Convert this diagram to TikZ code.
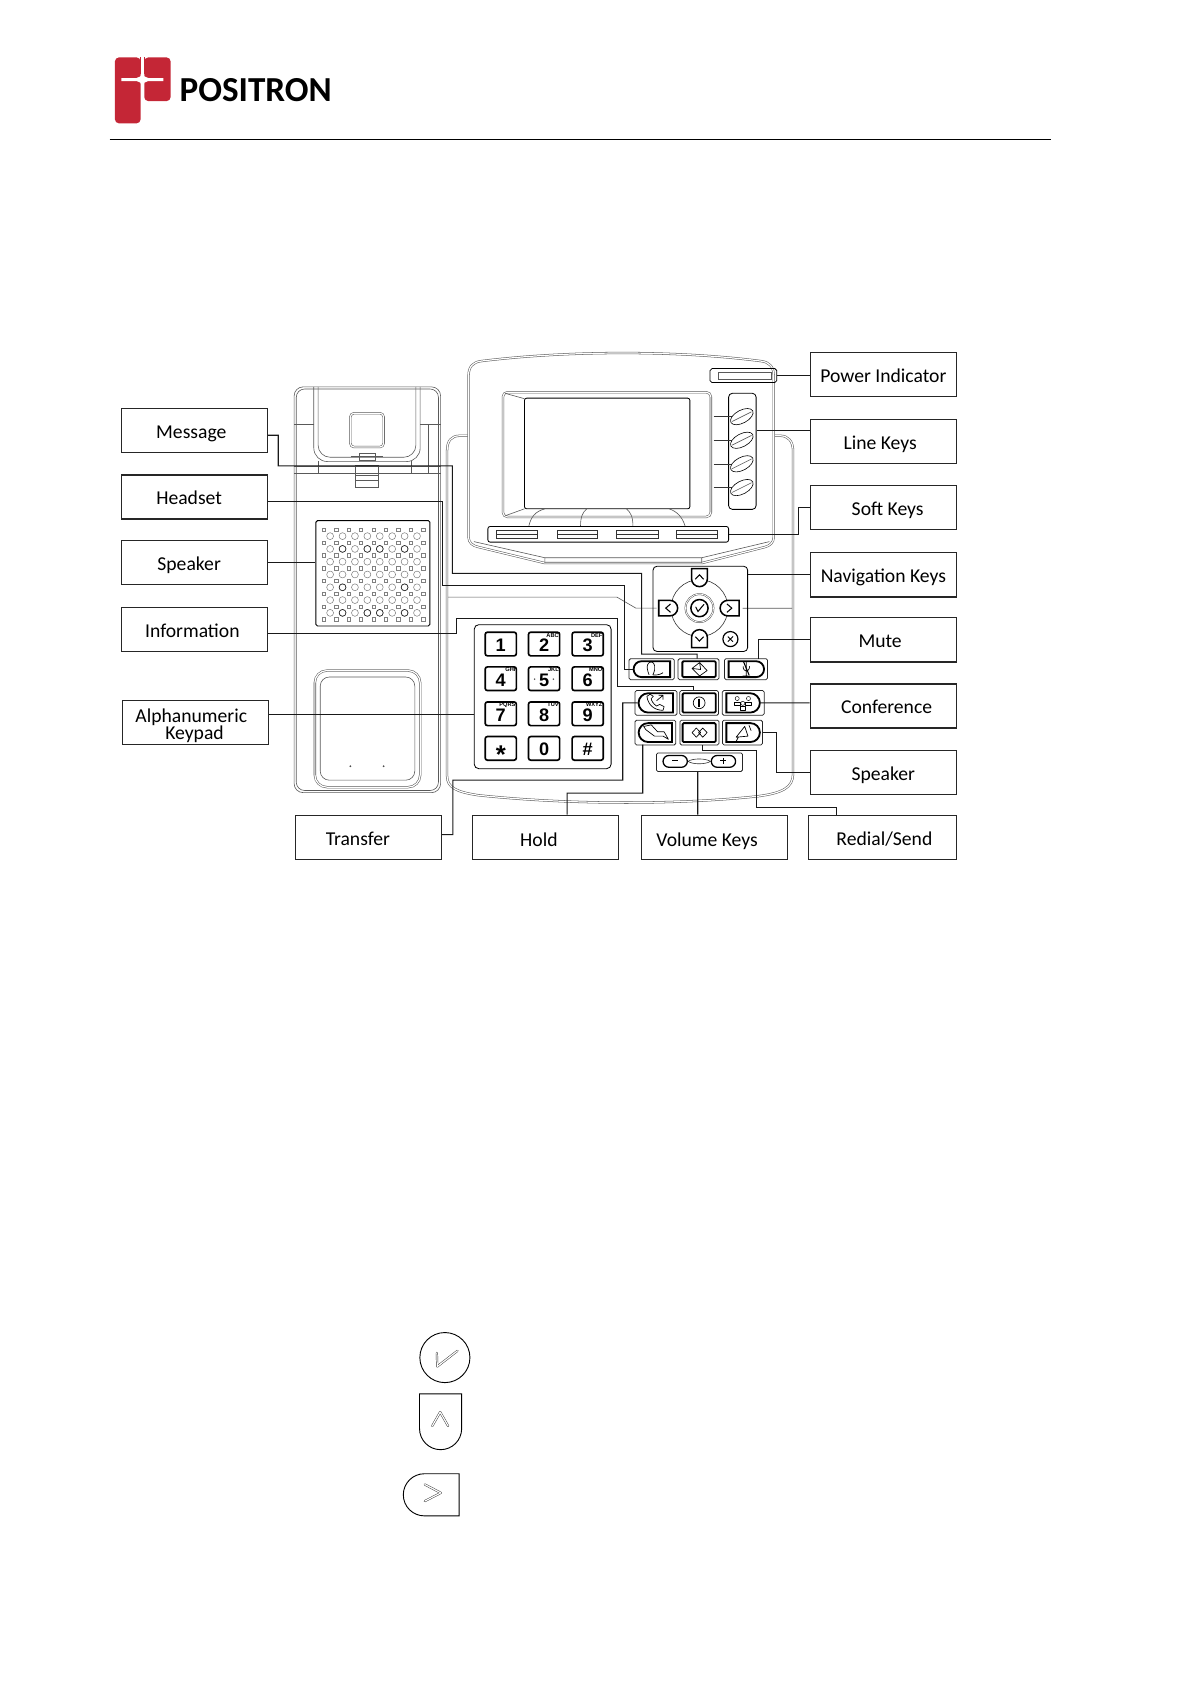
\documentclass[tikz,border=0pt]{standalone}
\usepackage{fontspec}
\setmainfont{Carlito}
\newfontfamily\keyfont{Liberation Sans}
\usetikzlibrary{shapes.misc,shapes.geometric}
\newcommand{\nudge}[1]{\kern#1mm\relax}
\definecolor{logored}{RGB}{196,38,54}
\begin{document}
\begin{tikzpicture}[x=0.05cm,y=-0.05cm]

	\tikzstyle{labelbox} = [rectangle,draw=black!85,line width=1.5pt,minimum width=68mm,minimum height=20.5mm,inner sep=0pt,font=\fontsize{26}{27}\selectfont,text height=21pt,text depth=0pt]
	\tikzstyle{lowbox} = [labelbox,text height=24pt,text depth=0pt]
	\tikzstyle{wire} = [line width=1.4pt,black!90]
	\tikzstyle{outline} = [draw=black!65,line width=0.8pt]
	\tikzstyle{hole} = [draw=black!50,line width=0.7pt]
	\tikzstyle{twin} = [draw=black!65,line width=0.7pt,double=white,double distance=1.6pt]
	\tikzstyle{frame} = [rectangle,rounded corners=2pt,draw=black!85,line width=1pt,minimum height=11.5mm,inner sep=0pt]
	\tikzstyle{softkey} = [rounded rectangle,draw=black,line width=2.4pt,minimum height=8.5mm,inner sep=0pt]
	\tikzstyle{padkey} = [rectangle,rounded corners=3pt,draw=black,line width=2.2pt,minimum width=14.5mm,minimum height=11mm,inner sep=0pt,font=\keyfont\bfseries\fontsize{24}{24}\selectfont,text height=20pt,text depth=0pt]
	\tikzstyle{padtag} = [inner sep=0pt,font=\keyfont\bfseries\fontsize{7.5}{7.5}\selectfont]
	\tikzstyle{navkey} = [rounded rectangle,rounded rectangle west arc=none,draw=black,line width=2pt,minimum width=8.4mm,minimum height=7.4mm,inner sep=0pt,fill=white]
	\tikzstyle{bigkey} = [rounded rectangle,rounded rectangle west arc=none,draw=black,line width=1.2pt,minimum width=26mm,minimum height=19.6mm,inner sep=0pt]
	\tikzstyle{glyph} = [draw=black!80,line width=0.6pt,double=white,double distance=1.6pt,line cap=round,line join=round]
	\tikzstyle{icon} = [draw=black,line width=0.9pt,line join=round]

	\useasboundingbox (0,0) rectangle (1108,1568);

	\fill[logored,rounded corners=5pt] (107,53.5) -- (130.8,53.5) -- (130.8,114.7) -- (107,114.7) -- cycle;
	\fill[logored,rounded corners=5pt] (134.3,53.5) -- (158.7,53.5) -- (158.7,94) -- (134.3,94) -- cycle;
	\fill[logored] (130,53.5) rectangle (135,69);
	\fill[white] (113,72.6) -- (127,72.6) .. controls (130,72.6) and (131.5,71) .. (132.5,66) .. controls (133.5,71) and (135,72.6) .. (138,72.6) -- (152,72.6) -- (152,75.4) -- (138,75.4) .. controls (135,75.4) and (133.5,77) .. (132.5,82) .. controls (131.5,77) and (130,75.4) .. (127,75.4) -- (113,75.4) -- cycle;
	\fill[white] (131.4,53.5) rectangle (133.7,70);
	\node[inner sep=0pt,anchor=base west,font=\bfseries\fontsize{46.5}{46}\selectfont] (brand) at (167,94) {POSITRON};
	\coordinate (ruleleft) at (102,129.5);
	\coordinate (ruleright) at (978,129.5);
	\draw[line width=1pt] (ruleleft) -- (ruleright);

	\draw[outline,rounded corners=12pt] (273.7,360) rectangle (410,737.6);
	\draw[outline,rounded corners=11pt] (275.7,362) rectangle (408,735.6);
	\draw[outline,rounded corners=18pt] (292,360) -- (292,429.5) -- (391,429.5) -- (391,360);
	\draw[outline,rounded corners=16pt] (296,360) -- (296,425.5) -- (387,425.5) -- (387,360);
	\draw[twin,rounded corners=5pt] (326,384.5) rectangle (357,416);
	\draw[outline] (273.7,395) -- (292,395) (391,395) -- (410,395) (398.5,395) -- (398.5,440);
	\draw[outline] (273.7,433.6) -- (410,433.6) (273.7,440) -- (410,440) (296,429) -- (296,440) (383,429) -- (383,440);
	\draw[outline] (331,433) rectangle (352,453) (331,442) -- (352,442) (331,447) -- (352,447);
	\draw[outline] (327,425) -- (356,425) (334,422) rectangle (349,428);
	\node[rectangle,rounded corners=2pt,draw=black,line width=1.2pt,minimum width=53mm,minimum height=49mm,inner sep=0pt] (grille) at (347,533.5) {};
	\foreach \r in {0,...,7}
		\foreach \c in {0,...,8}
			\draw[hole] ({299.9+\c*11.55},{491.5+\r*11.9}) rectangle ++(3,3);
	\foreach \r in {0,...,6}
		\foreach \c in {0,...,7}
			\draw[hole] ({307.2+\c*11.55},{498.9+\r*11.9}) circle[radius=3.2];
	\foreach \r/\c in {1/1,1/3,1/4,1/6,4/1,4/6,6/1,6/3,6/4,6/6}
		\draw[draw=black!85,line width=0.8pt] ({307.2+\c*11.55},{498.9+\r*11.9}) circle[radius=3.2];
	\draw[twin,rounded corners=16pt] (293,732.5) -- (293,624) -- (391,624) -- (391,732.5) -- cycle;
	\draw[outline,rounded corners=12pt] (298,726) -- (298,630) -- (386,630) -- (386,726) -- cycle;
	\fill[black!70] (326,713) circle[radius=0.9] (357,713) circle[radius=0.9];

	\draw[twin] (436,405.5) -- (428,405.5) .. controls (420,405.5) and (416,410) .. (416,420) -- (416,722) .. controls (416,733) and (425,737) .. (445,740) .. controls (530,749) and (630,749) .. (705,741) .. controls (728,738) and (738,733) .. (738,720) -- (738,420) .. controls (738,410) and (733,405.5) .. (726,405.5) -- (721,405.5);
	\draw[outline] (417,555.6) -- (574,555.6) -- (591.7,565.9) -- (611,565.9) (691,566) -- (737,566);

	\draw[twin,fill=white] (436,500) -- (436,350) .. controls (436,341) and (440,337) .. (448,336) .. controls (530,326) and (630,326) .. (708,336) .. controls (716,337) and (720,341) .. (720,350) -- (720,500) .. controls (720,505) and (716,508) .. (712,509) -- (653,524) -- (507,524) -- (445,509) .. controls (440,508) and (436,505) .. (436,500) -- cycle;
	\draw[outline] (507,519) -- (507,524) (653,519) -- (653,524) (441,504) -- (507,519) -- (653,519) -- (716,504);
	\draw[twin,rounded corners=6pt] (468,365) rectangle (661.5,481);
	\node[rectangle,rounded corners=3pt,draw=black,line width=1.1pt,minimum width=77mm,minimum height=51.5mm,inner sep=0pt] (screen) at (565,422) {};
	\draw[outline] (470,366) -- (488,371) (470,480) -- (488,473.5);
	\draw[outline] (492,490) .. controls (494,481) and (498,476) .. (507,473.5) (540.2,490) .. controls (540.2,481) and (542,477) .. (546,473.5) (589,490) .. controls (589,481) and (587,477) .. (583,473.5) (637.7,490) .. controls (635,481) and (630,476) .. (622.7,473.5);

	\node[rectangle,rounded corners=2.5pt,draw=black,line width=1pt,minimum width=31mm,minimum height=6.5mm,inner sep=0pt] (powerled) at (691.8,349.5) {};
	\draw[outline] (668.4,346) rectangle (718,353);
	\node[rectangle,rounded corners=5pt,draw=black,line width=1.1pt,minimum width=12.8mm,minimum height=54mm,inner sep=0pt] (linepanel) at (690.8,420) {};
	\foreach \n/\y in {1/387.7,2/409.7,3/431.6,4/453.7} {
		\draw[outline,black!80] (664.1,\y) -- (681,\y);
		\node[ellipse,draw=black,line width=0.8pt,fill=white,minimum width=11.5mm,minimum height=6mm,inner sep=0pt,rotate=28] (linekey\n) at (690.3,\y) {};
		\draw[outline] ([shift={(-9,4.5)}]linekey\n.center) -- ([shift={(9,-4.5)}]linekey\n.center);
	}
	\node[rectangle,rounded corners=3pt,draw=black,line width=1.1pt,minimum width=112mm,minimum height=7.3mm,inner sep=0pt] (softpanel) at (566,497.2) {};
	\foreach \x/\w in {462/38.3,518.4/37.4,573.4/39.2,629/38.1}
		\draw[draw=black!80,line width=0.8pt] (\x,493.7) rectangle ++(\w,7.1) (\x,497.2) -- ++(\w,0);

	\node[rectangle,rounded corners=5pt,draw=black,line width=1.1pt,minimum width=44mm,minimum height=39.6mm,inner sep=0pt] (navpanel) at (651.7,566.6) {};
	\draw[outline,black!80] (650.9,565.9) circle[radius=26.5];
	\draw[twin,double distance=1pt] (650.9,565.9) circle[radius=13];
	\node[circle,draw=black,line width=2pt,minimum size=8mm,inner sep=0pt] (navok) at (650.9,565.9) {};
	\draw[line width=1.4pt,line cap=round] (647.5,565) -- (649.5,569) -- (655,562.5);
	\node[navkey,rotate=-90] (navup) at (650.9,537.5) {};
	\node[navkey,rotate=90] (navdown) at (650.9,594.3) {};
	\node[navkey,minimum width=8.8mm,minimum height=7.2mm] (navleft) at (621.8,565.9) {};
	\node[navkey,minimum width=8.8mm,minimum height=7.2mm,rotate=180] (navright) at (678.9,565.9) {};
	\draw[line width=1.4pt] (647,539) -- (650.9,535) -- (654.8,539) (647,592.5) -- (650.9,596.5) -- (654.8,592.5) (624,562) -- (619.5,565.9) -- (624,569.8) (676.5,562) -- (681,565.9) -- (676.5,569.8);
	\node[circle,draw=black,line width=1.6pt,minimum size=7mm,inner sep=0pt] (navclose) at (679.7,594.7) {};
	\draw[line width=1.2pt] (677.3,592.3) -- (682.1,597.1) (677.3,597.1) -- (682.1,592.3);

	\node[rectangle,rounded corners=6pt,draw=black,line width=1.1pt,minimum width=63.7mm,minimum height=67mm,inner sep=0pt] (keypad) at (505,648.3) {};
	\foreach \n/\t/\l/\x/\y in {1/1//466/599.3,2/2/ABC/506.3/599.3,3/3/DEF/546.9/599.3,4/4/GHI/466/631.6,5/5/JKL/506.3/631.6,6/6/MNO/546.9/631.6,7/7/PQRS/466/664.2,8/8/TUV/506.3/664.2,9/9/WXYZ/546.9/664.2,10/\raisebox{-3.5mm}{\fontsize{34}{34}\selectfont *}//466/696.4,11/0//506.3/696.4,12/\#//546.9/696.4} {
		\node[padkey] (pad\n) at (\x,\y) {\t};
		\node[padtag,anchor=north east] (tag\n) at ([shift={(-1.5,1.5)}]pad\n.north east) {\l};
	}
	\fill[black!70] (497.5,632) circle[radius=0.8] (515,632) circle[radius=0.8];

	\node[frame,minimum width=21mm,minimum height=9.8mm] (fheadset) at (606.4,622.7) {};
	\node[softkey,rounded rectangle east arc=none,minimum width=17mm,minimum height=7.4mm] (headsetkey) at (606.6,622.7) {};
	\node[frame,minimum width=19mm,minimum height=9.8mm] (fmessage) at (650,622.7) {};
	\node[softkey,rectangle,rounded corners=1.5pt,minimum width=15.5mm,minimum height=7.4mm] (messagekey) at (650.5,622.7) {};
	\node[frame,minimum width=20mm,minimum height=9.8mm] (fmute) at (694.2,622.7) {};
	\node[softkey,rounded rectangle west arc=none,minimum width=16.5mm,minimum height=7.4mm] (mutekey) at (694.5,622.7) {};
	\node[frame,minimum width=19.5mm] (ftransfer) at (610.5,654.1) {};
	\node[softkey,rounded rectangle east arc=none,minimum width=16mm,minimum height=9mm] (transferkey) at (610.2,654.1) {};
	\node[frame,minimum width=18mm] (finfo) at (650.6,654.1) {};
	\node[softkey,rectangle,rounded corners=1.5pt,minimum width=15.4mm,minimum height=9mm] (infokey) at (650.6,654.1) {};
	\node[frame,minimum width=19.5mm] (fconf) at (691.6,654.1) {};
	\node[softkey,rounded rectangle west arc=none,minimum width=15.6mm,minimum height=9mm] (confkey) at (691.5,654.1) {};
	\node[frame,minimum width=19mm] (fhold) at (609.9,681.7) {};
	\node[softkey,rounded rectangle east arc=none,minimum width=15.5mm,minimum height=8.8mm] (holdkey) at (609.8,681.7) {};
	\node[frame,minimum width=18.2mm] (fredial) at (650.9,681.7) {};
	\node[softkey,rectangle,rounded corners=1.5pt,minimum width=15.4mm,minimum height=8.8mm] (redialkey) at (650.6,681.7) {};
	\node[frame,minimum width=18.6mm] (fspeaker) at (690.9,681.7) {};
	\node[softkey,rounded rectangle west arc=none,minimum width=15.6mm,minimum height=8.8mm] (speakerkey) at (691.5,681.7) {};
	\node[frame,minimum width=40mm,minimum height=8.7mm] (fvolume) at (650.9,709.3) {};
	\node[rounded rectangle,draw=black,line width=1.7pt,minimum width=11.3mm,minimum height=5.5mm,inner sep=0pt] (volminus) at (628.3,708.5) {};
	\node[rounded rectangle,draw=black,line width=1.7pt,minimum width=11.3mm,minimum height=5.5mm,inner sep=0pt] (volplus) at (673.2,708.5) {};
	\draw[outline,black!80] (volminus.east) .. controls (645,705.5) and (656,705.5) .. (volplus.west) (volminus.east) .. controls (645,711.5) and (656,711.5) .. (volplus.west);
	\draw[line width=1pt] (625.5,708) -- (631,708) (670,708) -- (676,708) (673,705.5) -- (673,710.5);

	\draw[icon] (604,628) .. controls (600,618) and (604,616) .. (606,616) .. controls (609,616) and (611,621) .. (607.5,628) .. controls (610,628.5) and (614,628) .. (617,626);
	\draw[icon] (644,622) -- (651,616.5) -- (658,624) -- (651,629) -- cycle (644,622) -- (652,623) -- (651,616.5);
	\draw[icon] (694.5,616) -- (694.5,625) (691.5,620) .. controls (691.5,626) and (697.5,626) .. (697.5,620) (691,629) -- (698,629) (694.5,625) -- (694.5,629);
	\draw[line width=1.4pt] (692,616) -- (697,628);
	\draw[icon] (602,648) .. controls (603,656) and (609,661) .. (617,661) -- (618,657.5) -- (614,655.5) -- (611,657) .. controls (608,655) and (606,652) .. (606,650) -- (608,648) -- (605,646) -- cycle (611,652) -- (617,647) (613,647) -- (617,647) -- (617,651);
	\draw[icon] (650.6,654) circle[radius=5.5];
	\draw[line width=2pt] (650.6,650) -- (650.6,658);
	\foreach \x/\y in {686/650,696.5/650,691.2/654.5} {
		\draw[icon,line width=0.6pt] (\x,\y) circle[radius=1.9];
		\draw[icon,line width=0.6pt] ({\x-2.7},{\y+6}) -- ({\x-2.7},{\y+3}) -- ({\x+2.7},{\y+3}) -- ({\x+2.7},{\y+6}) -- cycle;
	}
	\draw[icon] (599,676) -- (606,674.5) -- (612,681) -- (618,681) -- (622,688) -- (617,685) -- (609,685) -- (601,679) -- cycle;
	\draw[icon] (644,681.7) -- (648,677.5) -- (652,681.7) -- (648,686) -- cycle (650,681.7) -- (654,677.5) -- (658,681.7) -- (654,686) -- cycle;
	\draw[icon] (685,686) -- (693,676) -- (696,685) -- cycle (687,686) -- (685,690) -- (688,690) (697,675) -- (699,680);

	\node[labelbox] (power) at (822,348.5) {Power Indicator};
	\node[labelbox] (line) at (822,410.5) {\nudge{-3}Line Keys};
	\node[labelbox] (soft) at (822,472.5) {\nudge{4}Soft Keys};
	\node[labelbox] (navigation) at (822,535) {Navigation Keys};
	\node[labelbox] (mute) at (822,595.5) {\nudge{-3}Mute};
	\node[labelbox] (conference) at (822,657) {\nudge{3}Conference};
	\node[labelbox] (speakerr) at (822,718.5) {Speaker};
	\node[labelbox,minimum width=69mm] (redial) at (821,779) {\nudge{2}Redial/Send};
	\node[lowbox] (volume) at (665,779) {\nudge{-7}Volume Keys};
	\node[lowbox] (hold) at (507.5,779) {\nudge{-6}Hold};
	\node[labelbox] (transfer) at (343,779) {\nudge{-10}Transfer};
	\node[labelbox] (message) at (181,400.5) {\nudge{-3}Message};
	\node[labelbox] (headset) at (181,462.5) {\nudge{-5}Headset};
	\node[labelbox] (speakerl) at (181,523.5) {\nudge{-5}Speaker};
	\node[labelbox] (information) at (181,586) {\nudge{-2}Information};
	\node[labelbox,text height=,text depth=,align=center,font=\fontsize{26}{22.5}\selectfont] (keypadlabel) at (182,672.5) {\rule{0pt}{9.5mm}\nudge{-4}Alphanumeric\\\nudge{-1}Keypad};

	\draw[wire] ([shift={(0,1)}]power.west) -- (powerled.east);
	\draw[wire] ([shift={(0,-9.5)}]line.west) -- ([shift={(0,-19)}]linepanel.east);
	\draw[wire] ([shift={(0,-0.5)}]soft.west) -- (743,472) -- (743,497.2) -- (softpanel.east);
	\draw[wire] (navigation.west) -- ([shift={(0,-31.6)}]navpanel.east);
	\draw[wire] (mute.west) -- (706,595.5) -- (706,613);
	\draw[wire] ([shift={(0,-2.9)}]conference.west) -- (confkey.east);
	\draw[wire] (speakerr.west) -- (722.9,718.5) -- (722.9,681.7) -- (fspeaker.east);
	\draw[wire] ([shift={(-43,0)}]redial.north) -- (778,751) -- (704,751) -- (704,698.3) -- (654,698.3) -- (654,693);
	\draw[wire] ([shift={(-15.7,0)}]volume.north) -- (649.3,718);
	\draw[wire] ([shift={(20.2,0)}]hold.north) -- (527.7,738) -- (598.1,738) -- (598.1,693);
	\draw[wire] ([shift={(0,-2.3)}]transfer.east) -- (421.5,776.7) -- (421.5,726) -- (579.5,726) -- (579.5,654.1) -- (transferkey.west);
	\draw[wire] ([shift={(0,-8)}]keypadlabel.east) -- (441.3,664.5);
	\draw[wire] ([shift={(0,3.5)}]information.east) -- (425,589.5) -- (425,575.7) -- (574.7,575.7) -- (574.7,638.7) -- (645,638.7) -- (645,642.5);
	\draw[wire] ([shift={(0,4)}]headset.east) -- (411.8,466.5) -- (411.8,545) -- (581.5,545) -- (581.5,622.7) -- (headsetkey.west);
	\draw[wire] ([shift={(0,4.5)}]message.east) -- (258.9,405) -- (258.9,433.5) -- (421,433.5) -- (421,533.5) -- (597.1,533.5) -- (597.1,608.7) -- (648.7,608.7) -- (648.7,613);
	\draw[wire] (speakerl.east) -- ([shift={(0,-10)}]grille.west);

	\node[circle,draw=black,line width=1.2pt,minimum size=23.3mm,inner sep=0pt] (bigok) at (414,1263.3) {};
	\draw[glyph] (406.5,1259) -- (406.9,1271.6) -- (425.7,1257);
	\node[bigkey,rotate=-90] (bigup) at (410,1323) {};
	\draw[glyph] (402.2,1327) -- (409.6,1314) -- (417,1327);
	\node[bigkey,rotate=180] (bigright) at (401.3,1391) {};
	\draw[glyph] (395.3,1381.4) -- (410.2,1389.2) -- (395.3,1396.9);

\end{tikzpicture}
\end{document}
